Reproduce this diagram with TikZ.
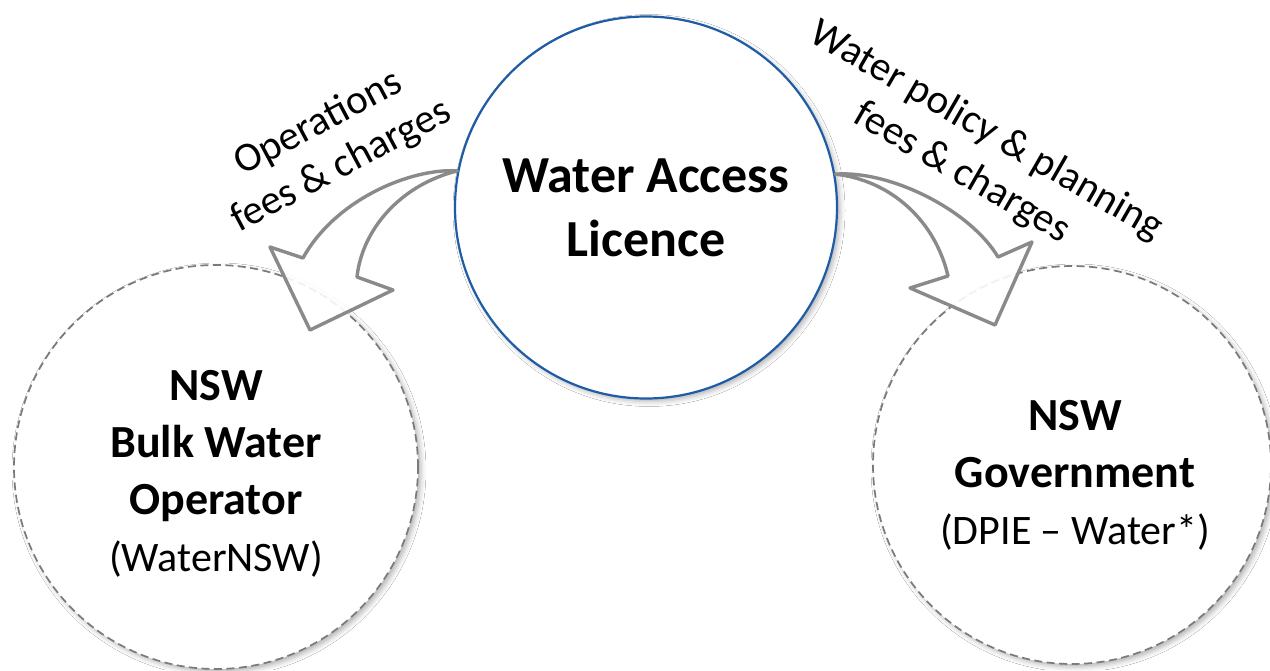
\documentclass[tikz,border=0pt]{standalone}
\usepackage{fontspec}
\setmainfont{Carlito}
\usetikzlibrary{shadows.blur}
\definecolor{walblue}{HTML}{1F5CA6}
\definecolor{arrgray}{HTML}{8A8A8A}
\definecolor{dashgray}{HTML}{7A7A7A}
\tikzset{
  softshadow/.style={blur shadow={shadow xshift=3pt, shadow yshift=-3pt, shadow blur radius=5pt, shadow opacity=30}},
  orgcircle/.style={circle, draw=dashgray, line width=1.7pt, dash pattern=on 8pt off 4.5pt, fill=white, minimum size=404pt, inner sep=0pt, softshadow},
  licence/.style={circle, draw=walblue, line width=2.2pt, fill=white, minimum size=382pt, inner sep=0pt, softshadow, font=\fontsize{52}{64}\selectfont\bfseries, align=center},
  blockarrow/.style={draw=arrgray, line width=3.4pt, fill=white, fill opacity=0.9, line join=round},
  flowlabel/.style={font=\fontsize{41}{49}\selectfont, align=center, inner sep=0pt},
  orgtitle/.style={align=center, anchor=north, inner sep=0pt, font=\fontsize{46}{57}\selectfont},
}
\begin{document}
\begin{tikzpicture}[x=1pt,y=-1pt]
\useasboundingbox (0,0) rectangle (1270,670);
\fill[white] (0,0) rectangle (1270,670);

% outer organisations
\node[orgcircle] (bwo) at (216,467) {};
\node[orgcircle, minimum size=398pt] (gov) at (1072,465) {};

% central licence
\node[licence] (wal) at (646,207.5) {Water Access\\Licence};

% left block arrow
\coordinate (lt) at (wal.169.5);
\coordinate (la) at (303,258);
\coordinate (lb) at (270,247);
\coordinate (lp) at (310,330);
\coordinate (lc) at (393,290);
\coordinate (ln) at (357,277);
\draw[blockarrow] (lt) .. controls (410,168) and (335,200) .. (la) -- (lb) -- (lp) -- (lc) -- (ln)
  .. controls (362,230) and (400,185) .. (lt) -- cycle;

% right block arrow
\coordinate (rt) at (wal.10);
\coordinate (ra) at (998,257);
\coordinate (rb) at (1032,242);
\coordinate (rp) at (995,325);
\coordinate (rc) at (910,288);
\coordinate (rn) at (948,276);
\draw[blockarrow] (rt) .. controls (890,170) and (970,210) .. (ra) -- (rb) -- (rp) -- (rc) -- (rn)
  .. controls (935,220) and (890,180) .. (rt) -- cycle;

% texts
\node[orgtitle] (bwotext) at (216,370.5) {\textbf{NSW}\\\textbf{Bulk Water}\\\textbf{Operator}\\{\fontsize{42}{57}\selectfont (WaterNSW)}};
\node[orgtitle] (govtext) at (1075,400.5) {\textbf{NSW}\\\textbf{Government}\\{\fontsize{42}{57}\selectfont (DPIE – Water*)}};

\node[flowlabel, rotate=28] (oplabel) at (330,145) {Operations\\fees \& charges};
\node[flowlabel, rotate=-30] (wplabel) at (974,152) {Water policy \& planning\\fees \& charges};
\end{tikzpicture}
\end{document}
